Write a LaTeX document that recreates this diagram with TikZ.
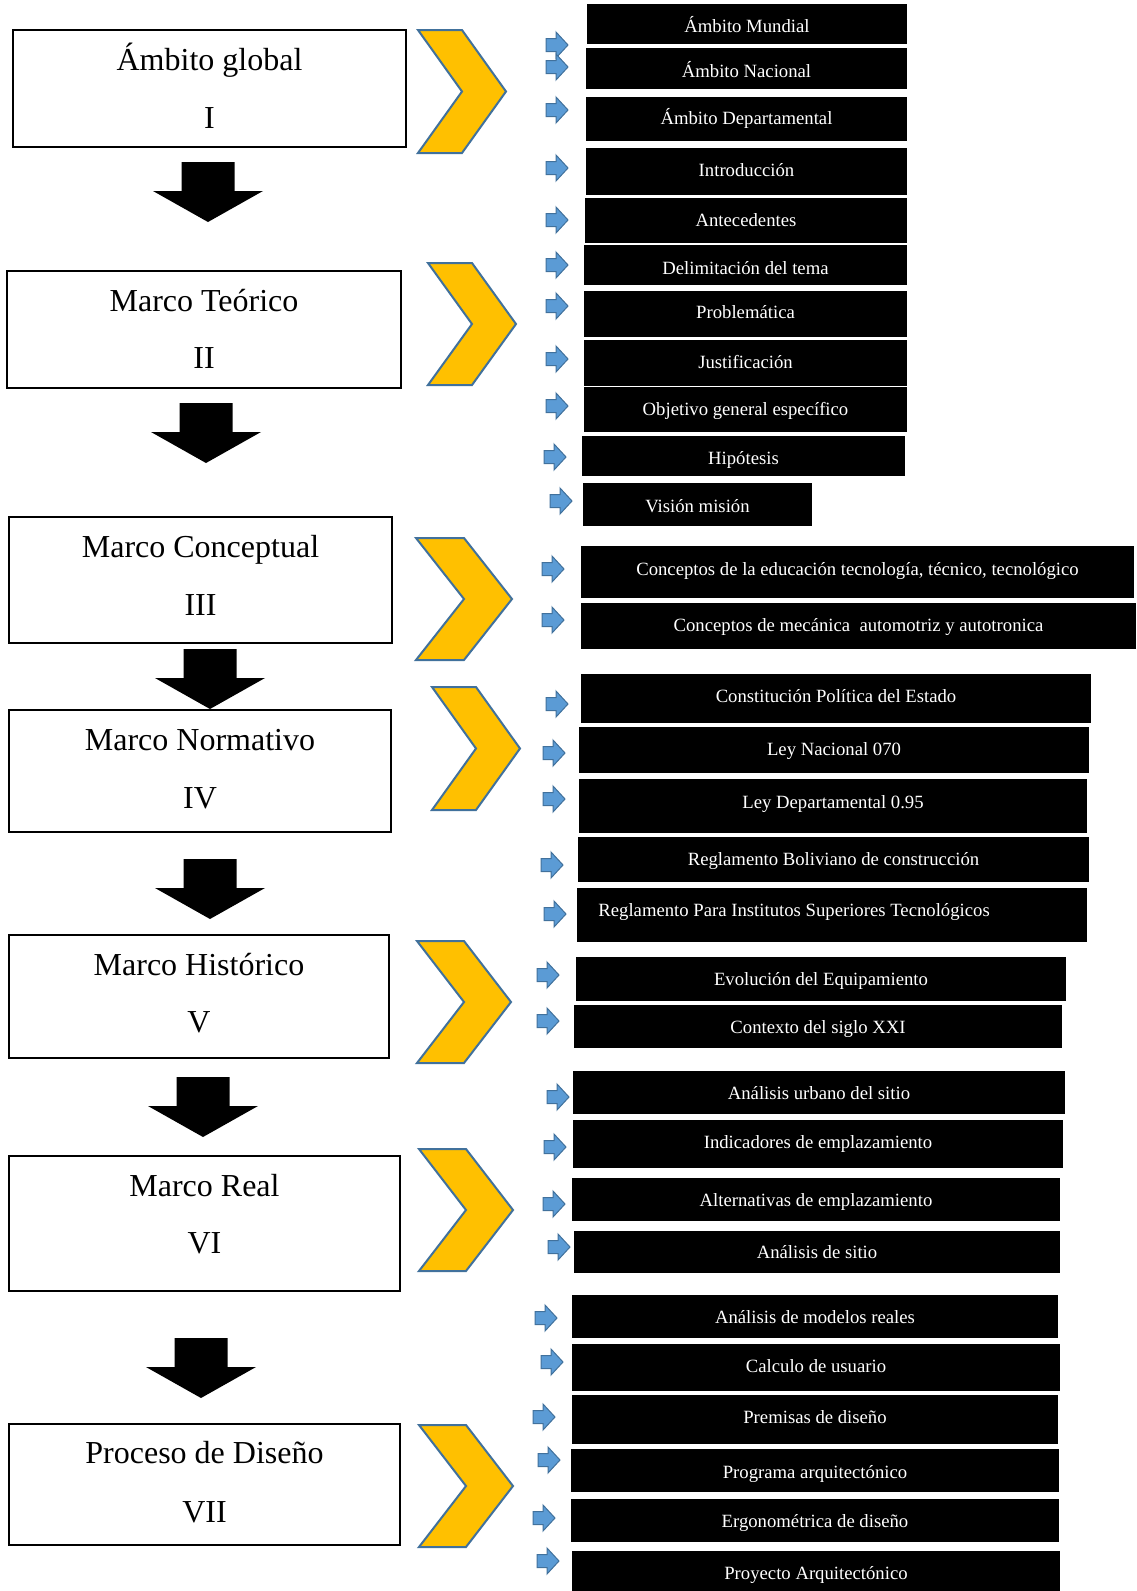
\documentclass[tikz,border=0pt]{standalone}
\usepackage{fontspec}
\setmainfont{Liberation Serif}
\usetikzlibrary{fit}
\definecolor{chevfill}{HTML}{FFC000}
\definecolor{chevline}{HTML}{41719C}
\definecolor{arrfill}{HTML}{5B9BD5}
\tikzset{
 mainbox/.style={draw=black, line width=1.3pt, fill=white, inner sep=0pt},
 maintext/.style={font=\fontsize{16}{19}\selectfont, anchor=base, inner sep=0pt},
 tbox/.style={fill=black, inner sep=0pt, draw=none},
 ttext/.style={text=white, font=\fontsize{9.35}{11}\selectfont, inner sep=0pt},
 chevron/.style={fill=chevfill, draw=chevline, line width=1pt, line join=miter},
 bluearrow/.style={fill=arrfill, draw=chevline, line width=0.5pt, line join=miter},
 downarrow/.style={fill=black},
}
\newcommand\mainblock[8]{% name x1 y1 x2 y2 base1 base2 {line1}
 \node[mainbox, fit={(#2,#3)(#4,#5)}] (#1) {};
 \node[maintext] (#1a) at ({(#2+#4)/2},#6) {#8};
}
\newcommand\blackitem[7]{% name x1 y1 x2 y2 ty text
 \node[tbox, fit={(#2,#3)(#4,#5)}] (#1) {};
 \node[ttext] (#1t) at ({(#2+#4)/2},#6) {#7};
}
\newcommand\chevshape[4]{% left top bottom arm
 \draw[chevron] (#1,#2) -- ({#1+#4},#2) -- ({#1+2*#4},{(#2+#3)/2}) -- ({#1+#4},#3) -- (#1,#3) -- ({#1+#4},{(#2+#3)/2}) -- cycle;}
\newcommand\dnarrow[2]{% cx top
 \fill[downarrow] ({#1-26.5},#2) -- ({#1+26.5},#2) -- ({#1+26.5},{#2+29}) -- ({#1+55},{#2+29}) -- (#1,{#2+60}) -- ({#1-55},{#2+29}) -- ({#1-26.5},{#2+29}) -- cycle;}
\newcommand\bluearr[2]{% x cy
 \filldraw[bluearrow] (#1,{#2-6.5}) -- ({#1+10},{#2-6.5}) -- ({#1+10},{#2-13}) -- ({#1+22},#2) -- ({#1+10},{#2+13}) -- ({#1+10},{#2+6.5}) -- (#1,{#2+6.5}) -- cycle;}
\begin{document}
\begin{tikzpicture}[x=0.5pt,y=-0.5pt]
\fill[white] (0,0) rectangle (1136,1591);
\useasboundingbox (0,0) rectangle (1136,1591);

% left boxes
\mainblock{b1}{13}{30}{406}{147}{70}{128}{Ámbito global}
\node[maintext] (b1b) at (209.5,128) {I};
\mainblock{b2}{7}{271}{401}{388}{311}{368}{Marco Teórico}
\node[maintext] (b2b) at (204,368) {II};
\mainblock{b3}{9}{517}{392}{643}{557}{615}{Marco Conceptual}
\node[maintext] (b3b) at (200.5,615) {III};
\mainblock{b4}{9}{710}{391}{832}{750}{808}{Marco Normativo}
\node[maintext] (b4b) at (200,808) {IV};
\mainblock{b5}{9}{935}{389}{1058}{975}{1032}{Marco Histórico}
\node[maintext] (b5b) at (199,1032) {V};
\mainblock{b6}{9}{1156}{400}{1291}{1196}{1253}{Marco Real}
\node[maintext] (b6b) at (204.5,1253) {VI};
\mainblock{b7}{9}{1424}{400}{1545}{1463}{1522}{Proceso de Diseño}
\node[maintext] (b7b) at (204.5,1522) {VII};

% down arrows
\dnarrow{208}{162}
\dnarrow{206}{403}
\dnarrow{210}{649}
\dnarrow{210}{859}
\dnarrow{203}{1077}
\dnarrow{201}{1338}

% chevrons
\chevshape{418}{30}{153}{44}
\chevshape{428}{263}{385}{44}
\chevshape{416}{538}{660}{48}
\chevshape{432}{687}{810}{44}
\chevshape{417}{941}{1063}{47}
\chevshape{419}{1149}{1271}{47}
\chevshape{419}{1425}{1547}{47}

% black items
\blackitem{t1}{587}{4}{907}{44}{25}{Ámbito Mundial}
\blackitem{t2}{586}{48}{907}{89}{70}{Ámbito Nacional}
\blackitem{t3}{586}{97}{907}{141}{118}{Ámbito Departamental}
\blackitem{t4}{586}{148}{907}{195}{170}{Introducción}
\blackitem{t5}{585}{198}{907}{243}{220}{Antecedentes}
\blackitem{t6}{584}{245}{907}{285}{268}{Delimitación del tema}
\blackitem{t7}{584}{291}{907}{337}{312}{Problemática}
\blackitem{t8}{584}{340}{907}{386}{362}{Justificación}
\blackitem{t9}{584}{387}{907}{432}{411}{Objetivo general específico}
\blackitem{t10}{582}{436}{905}{476}{460}{Hipótesis}
\blackitem{t11}{583}{483}{812}{526}{506}{Visión misión}
\blackitem{t12}{581}{546}{1134}{598}{571}{Conceptos de la educación tecnología, técnico, tecnológico}
\blackitem{t13}{581}{603}{1136}{649}{627}{Conceptos de mecánica\ \ automotriz y autotronica}
\blackitem{t14}{581}{674}{1091}{723}{696}{Constitución Política del Estado}
\blackitem{t15}{579}{727}{1089}{773}{751}{Ley Nacional 070}
\blackitem{t16}{579}{779}{1087}{833}{804}{Ley Departamental 0.95}
\blackitem{t17}{578}{837}{1089}{882}{861}{Reglamento Boliviano de construcción}
\node[tbox, fit={(577,888)(1087,942)}] (t18) {};
\node[ttext, anchor=west] (t18t) at (598,912) {Reglamento Para Institutos Superiores Tecnológicos};
\blackitem{t19}{576}{957}{1066}{1001}{981}{Evolución del Equipamiento}
\blackitem{t20}{574}{1005}{1062}{1048}{1029}{Contexto del siglo XXI}
\blackitem{t21}{573}{1071}{1065}{1114}{1093}{Análisis urbano del sitio}
\blackitem{t22}{573}{1120}{1063}{1168}{1144}{Indicadores de emplazamiento}
\blackitem{t23}{572}{1178}{1060}{1221}{1202}{Alternativas de emplazamiento}
\blackitem{t24}{574}{1231}{1060}{1273}{1252}{Análisis de sitio}
\blackitem{t25}{572}{1295}{1058}{1338}{1317}{Análisis de modelos reales}
\blackitem{t26}{572}{1344}{1060}{1391}{1366}{Calculo de usuario}
\blackitem{t27}{572}{1395}{1058}{1444}{1417}{Premisas de diseño}
\blackitem{t28}{571}{1449}{1059}{1492}{1474}{Programa arquitectónico}
\blackitem{t29}{571}{1499}{1059}{1542}{1523}{Ergonométrica de diseño}
\blackitem{t30}{572}{1551}{1060}{1591}{1575}{Proyecto Arquitectónico}

% blue arrows
\bluearr{546}{45}
\bluearr{546}{67}
\bluearr{546}{110}
\bluearr{546}{168}
\bluearr{546}{220}
\bluearr{546}{265}
\bluearr{546}{306}
\bluearr{546}{359}
\bluearr{546}{406}
\bluearr{544}{457}
\bluearr{550}{501}
\bluearr{542}{569}
\bluearr{542}{620}
\bluearr{546}{704}
\bluearr{543}{753}
\bluearr{543}{799}
\bluearr{541}{865}
\bluearr{544}{914}
\bluearr{537}{975}
\bluearr{537}{1021}
\bluearr{547}{1097}
\bluearr{544}{1147}
\bluearr{543}{1204}
\bluearr{548}{1247}
\bluearr{535}{1318}
\bluearr{541}{1362}
\bluearr{533}{1417}
\bluearr{538}{1460}
\bluearr{533}{1518}
\bluearr{537}{1561}
\end{tikzpicture}
\end{document}
